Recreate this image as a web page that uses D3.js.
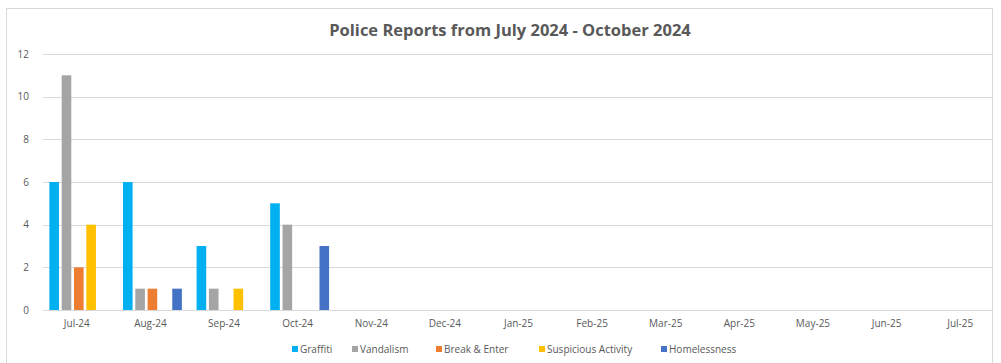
<!DOCTYPE html>
<html>
<head>
<meta charset="utf-8">
<script src="https://cdn.jsdelivr.net/npm/d3@7"></script>
<style>
  body { margin: 0; background: #fff; }
  svg { display: block; font-family: "Open Sans", "Liberation Sans", sans-serif; }
</style>
</head>
<body>
<script>
const months = ["Jul-24", "Aug-24", "Sep-24", "Oct-24", "Nov-24", "Dec-24", "Jan-25",
  "Feb-25", "Mar-25", "Apr-25", "May-25", "Jun-25", "Jul-25"];
const seriesNames = ["Graffiti", "Vandalism", "Break & Enter", "Suspicious Activity", "Homelessness"];
const seriesColors = ["#00b0f0", "#a5a5a5", "#ed7d31", "#ffc000", "#4472c4"];
// only the first four months have reports
const graffiti = [6, 6, 3, 5];
const vandalism = [11, 1, 1, 4];
const breakEnter = [2, 1, 0, 0];
const suspicious = [4, 0, 1, 0];
const homelessness = [0, 1, 0, 3];
const yTicks = [0, 2, 4, 6, 8, 10, 12];

const w = 1001, h = 363;
const plotLeft = 42, plotRight = 999, plotTop = 54, plotBottom = 310;

const svg = d3.select("body").append("svg")
  .attr("width", w)
  .attr("height", h);

// chart frame
svg.append("rect")
  .attr("x", 6.5).attr("y", 8.5)
  .attr("width", 986).attr("height", 380)
  .attr("fill", "none")
  .attr("stroke", "#d9d9d9");

svg.append("text")
  .attr("x", 510).attr("y", 36)
  .attr("text-anchor", "middle")
  .attr("font-size", 16.5)
  .attr("font-weight", "bold")
  .attr("fill", "#595959")
  .text("Police Reports from July 2024 - October 2024");

const yScale = d3.scaleLinear().domain([0, 12]).range([plotBottom, plotTop]);

const x0 = d3.scaleBand()
  .domain(months)
  .range([plotLeft, plotRight])
  .paddingInner(0.2)
  .paddingOuter(0.1);

const x1 = d3.scaleBand()
  .domain(seriesNames)
  .range([0, x0.bandwidth()])
  .paddingInner(0.22);

// gridlines + y labels
const yAxis = d3.axisLeft(yScale).tickValues(yTicks).tickSize(0).tickPadding(0);
const gy = svg.append("g")
  .attr("transform", `translate(29, 0)`)
  .call(yAxis);
gy.select(".domain").remove();
gy.selectAll("text")
  .attr("font-size", 10)
  .attr("fill", "#595959")
  .attr("font-family", "Open Sans");

svg.append("g").selectAll("line")
  .data(yTicks)
  .enter()
  .append("line")
  .attr("x1", 43).attr("x2", 992)
  .attr("y1", d => Math.round(yScale(d)) + 0.5)
  .attr("y2", d => Math.round(yScale(d)) + 0.5)
  .attr("stroke", "#d9d9d9");

// x labels
const xAxis = d3.axisBottom(x0).tickSize(0).tickPadding(10);
const gx = svg.append("g")
  .attr("transform", `translate(-2, ${plotBottom})`)
  .call(xAxis);
gx.select(".domain").remove();
gx.selectAll("text")
  .attr("font-size", 10)
  .attr("fill", "#595959")
  .attr("font-family", "Open Sans");

// bars
const allSeries = [graffiti, vandalism, breakEnter, suspicious, homelessness];
const bars = [];
allSeries.forEach((vals, si) => {
  vals.forEach((v, mi) => {
    bars.push({ month: months[mi], series: seriesNames[si], value: v, color: seriesColors[si] });
  });
});

svg.append("g").selectAll("rect")
  .data(bars.filter(d => d.value > 0))
  .enter()
  .append("rect")
  .attr("x", d => x0(d.month) + x1(d.series))
  .attr("y", d => yScale(d.value))
  .attr("width", x1.bandwidth())
  .attr("height", d => yScale(0) - yScale(d.value))
  .attr("fill", d => d.color);

// legend
const legendX = [292, 352, 436, 539, 661];
const legend = svg.append("g").selectAll("g")
  .data(seriesNames)
  .enter()
  .append("g")
  .attr("transform", (d, i) => `translate(${legendX[i]}, 349)`);
legend.append("rect")
  .attr("x", 0).attr("y", -3)
  .attr("width", 6).attr("height", 6)
  .attr("fill", (d, i) => seriesColors[i]);
legend.append("text")
  .attr("x", 8).attr("y", 3.5)
  .attr("font-size", 10)
  .attr("fill", "#595959")
  .text(d => d);
</script>
</body>
</html>
